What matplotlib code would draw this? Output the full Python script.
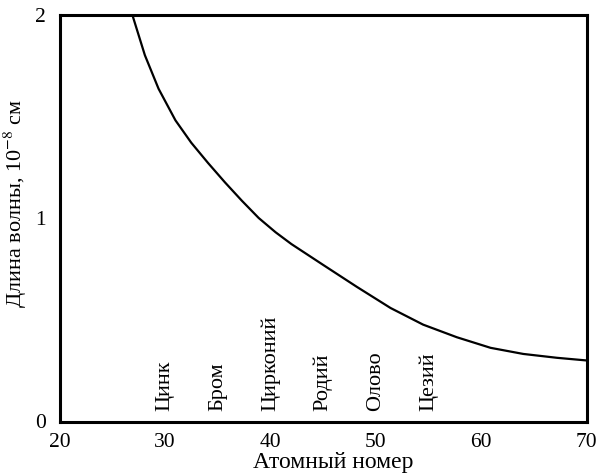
import matplotlib
matplotlib.use("Agg")
import matplotlib.pyplot as plt

plt.rcParams['font.family'] = ['Liberation Serif', 'DejaVu Serif']
plt.rcParams['mathtext.fontset'] = 'stix'

# curve: atomic number vs wavelength (10^-8 cm)
atomic_number = [26.9, 28.1, 29.4, 31.0, 32.5, 34.1, 35.7, 37.3, 38.9, 40.5,
                 42.0, 45.0, 48.2, 51.4, 54.5, 57.7, 60.9, 64.0, 67.2, 70.0]
wavelength = [2.00, 1.80, 1.635, 1.48, 1.37, 1.27, 1.175, 1.085, 1.0, 0.93,
              0.872, 0.77, 0.662, 0.558, 0.476, 0.414, 0.362, 0.332, 0.313, 0.300]

# element names placed along the x axis
elements = ['Цинк', 'Бром', 'Цирконий', 'Родий', 'Олово', 'Цезий']
element_z = [30, 35, 40, 45, 50, 55]

xticks = [20, 30, 40, 50, 60, 70]
yticks = [0, 1, 2]

fig = plt.figure(figsize=(5.96, 4.75), dpi=100)
ax = fig.add_axes([59.5 / 596, 1 - 421.5 / 475, 527 / 596, 407 / 475])

ax.plot(atomic_number, wavelength, color='black', lw=1.6, solid_capstyle='round')

for name, z in zip(elements, element_z):
    ax.text(z, 0.05, name, rotation=90, ha='center', va='bottom', fontsize=16)

ax.set_xlim(20, 70)
ax.set_ylim(0, 2)
ax.set_xticks(xticks)
ax.set_yticks(yticks)
ax.tick_params(length=0, labelsize=15.5)
ax.tick_params(axis='x', pad=8)
ax.tick_params(axis='y', pad=10)
for sp in ax.spines.values():
    sp.set_linewidth(2.2)

ax.set_xlabel('Атомный номер', fontsize=17, labelpad=-1)
ax.xaxis.set_label_coords(0.52, -0.075)
fig.text(15 / 596, 1 - 203 / 475, 'Длина волны, 10$^{-8}$ см', rotation=90,
         ha='center', va='center', fontsize=16)

fig.savefig('out.png', dpi=100)
